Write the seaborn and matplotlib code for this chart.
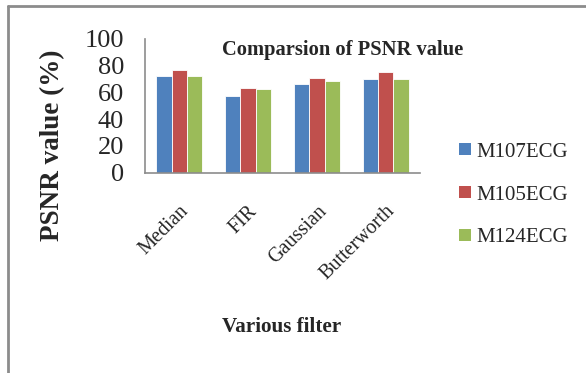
import matplotlib
matplotlib.use("Agg")
import matplotlib.pyplot as plt
from matplotlib.lines import Line2D
from matplotlib.ticker import FixedLocator, NullFormatter
import pandas as pd
import seaborn as sns

# PSNR values (%) per filter for each ECG record
filters = ["Median", "FIR", "Gaussian", "Butterworth"]
records = ["M107ECG", "M105ECG", "M124ECG"]
m107 = [72.2, 57.5, 66.4, 69.7]
m105 = [76.9, 63.4, 70.5, 75.1]
m124 = [72.0, 62.2, 68.3, 70.1]
colors = ["#4F81BD", "#C0504D", "#9BBB59"]
yticks = [0, 20, 40, 60, 80, 100]

df = pd.DataFrame({
    "filter": filters * 3,
    "record": [records[0]] * 4 + [records[1]] * 4 + [records[2]] * 4,
    "psnr": m107 + m105 + m124,
})

sns.set_style("white")
plt.rcParams["font.family"] = ["Liberation Serif", "DejaVu Serif"]

fig = plt.figure(figsize=(5.86, 3.73), dpi=100)
W, H = 586, 373
ax = fig.add_axes([145 / W, (H - 172.7) / H, (420 - 145) / W, (172.7 - 38.7) / H])

sns.barplot(data=df, x="filter", y="psnr", hue="record", order=filters,
            hue_order=records, palette=colors, width=0.667, ax=ax,
            edgecolor="white", linewidth=0.6, saturation=1, legend=False)

ax.set_ylim(0, 100)
ax.set_xlim(-0.5, 3.5)
ax.set_yticks(yticks)
ax.set_yticklabels([str(v) for v in yticks], fontsize=19)
ax.set_xticks(range(len(filters)))
ax.set_xticklabels(filters, rotation=45, ha="right", rotation_mode="anchor",
                   fontsize=14.5)
ax.xaxis.set_minor_locator(FixedLocator([-0.5, 0.5, 1.5, 2.5, 3.5]))
ax.xaxis.set_minor_formatter(NullFormatter())
ax.tick_params(axis="x", which="major", length=0, pad=21)
ax.tick_params(axis="x", which="minor", length=5, color="#8c8c8c", width=1.2)
ax.tick_params(axis="y", length=5, color="#8c8c8c", width=1.2, pad=10)

for side in ("top", "right"):
    ax.spines[side].set_visible(False)
for side in ("left", "bottom"):
    ax.spines[side].set_color("#8c8c8c")
    ax.spines[side].set_linewidth(1.2)

ax.set_xlabel("")
ax.set_ylabel("")

fig.text(53 / W, 1 - 145 / H, "PSNR value (%)", fontsize=19.5, fontweight="bold",
         rotation=90, ha="center", va="center")
fig.text(343 / W, 1 - 50 / H, "Comparsion of PSNR value", fontsize=14.8,
         fontweight="bold", ha="center", va="center")
fig.text(282 / W, 1 - 327 / H, "Various filter", fontsize=15.2,
         fontweight="bold", ha="center", va="center")

# legend to the right of the plot
handles = [plt.Rectangle((0, 0), 1, 1, facecolor=c, edgecolor="none") for c in colors]
fig.legend(handles, records, loc="center left", bbox_to_anchor=(449 / W, 1 - 195 / H),
           frameon=False, fontsize=15, handlelength=0.55, handleheight=0.55,
           handletextpad=0.25, labelspacing=1.15, borderpad=0)

# outer chart border (left and top edges)
fig.add_artist(Line2D([7.5 / W, 7.5 / W], [0, 1 - 6 / H], transform=fig.transFigure,
                      color="#8c8c8c", linewidth=2))
fig.add_artist(Line2D([7.5 / W, 1], [1 - 6 / H, 1 - 6 / H], transform=fig.transFigure,
                      color="#8c8c8c", linewidth=2))

fig.savefig("out.png", dpi=100)
